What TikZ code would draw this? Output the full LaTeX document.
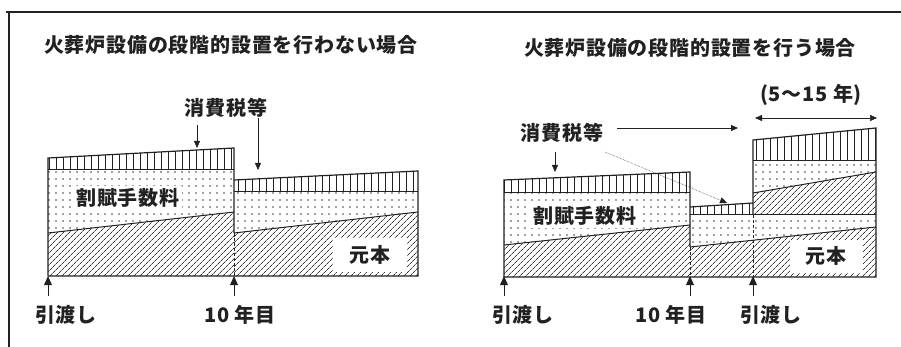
\documentclass[tikz,border=0pt]{standalone}
\usepackage{fontspec}
\setmainfont{Noto Sans CJK JP}
\usetikzlibrary{patterns.meta,arrows.meta}
\definecolor{ink}{rgb}{0.13,0.13,0.13}
\tikzset{
  lbl/.style={font=\fontsize{20}{20}\selectfont\bfseries\addfontfeature{LetterSpace=4}, text=ink, inner sep=1pt},
  boxlbl/.style={lbl, fill=white, inner sep=2pt},
  bandfill/.style={pattern={Lines[angle=90,distance=7pt,line width=0.8pt]}, pattern color=ink},
  dotfill/.style={pattern={Dots[distance=7pt,radius=0.8pt]}, pattern color=ink!85},
  hatchfill/.style={pattern={Lines[angle=45,distance=4pt,line width=0.7pt]}, pattern color=ink!90},
  outl/.style={draw=ink, line width=1.2pt, line join=miter},
  inl/.style={draw=ink, line width=1pt},
  vdash/.style={draw=ink, line width=0.9pt, densely dashed},
  thinarrow/.style={draw=ink, line width=0.5pt, -{Triangle[length=7pt,width=6pt]}},
  marker/.style={fill=ink},
}
\begin{document}
\begin{tikzpicture}[x=1pt,y=-1pt]
\useasboundingbox (0,0) rectangle (901,347);
% frame
\draw[ink, line width=1.5pt] (6,12) -- (901,12);
\draw[ink, line width=1.3pt] (9,12) -- (9,347);

% ---------- left panel ----------
\node[lbl] (tl) at (231,45) {火葬炉設備の段階的設置を行わない場合};
% block L1
\fill[bandfill] (48,158) -- (234,148) -- (234,170) -- (48,170) -- cycle;
\fill[dotfill] (48,170) -- (234,170) -- (234,212) -- (48,233) -- cycle;
\fill[hatchfill] (48,233) -- (234,212) -- (234,276) -- (48,276) -- cycle;
% block L2
\fill[bandfill] (234,180) -- (418,171) -- (418,192) -- (234,192) -- cycle;
\fill[dotfill] (234,192) -- (418,192) -- (418,212) -- (234,233) -- cycle;
\fill[hatchfill] (234,233) -- (418,212) -- (418,276) -- (234,276) -- cycle;
% lines
\draw[inl] (48,170) -- (234,170);
\draw[inl] (48,233) -- (234,212);
\draw[inl] (234,192) -- (418,192);
\draw[inl] (234,233) -- (418,212);
\draw[outl] (48,276) -- (48,158) -- (234,148) -- (234,233);
\draw[outl] (234,180) -- (418,171) -- (418,276) -- (48,276);
\draw[vdash] (234,233) -- (234,276);

\node[boxlbl] (kl) at (128,198) {割賦手数料};
\node[boxlbl, minimum width=74pt, minimum height=34pt] (gl) at (370,255) {元本};
\node[lbl] (sl) at (226,108) {消費税等};
\coordinate (sla) at (197,125);
\coordinate (slb) at (197,148);
\coordinate (slc) at (258,118);
\coordinate (sld) at (258,170);
\draw[thinarrow] (sla) -- (slb);
\draw[thinarrow] (slc) -- (sld);

% ---------- right panel ----------
\node[lbl] (tr) at (690,48) {火葬炉設備の段階的設置を行う場合};
% block R1
\fill[bandfill] (504,180) -- (690,172) -- (690,193) -- (504,193) -- cycle;
\fill[dotfill] (504,193) -- (690,193) -- (690,225) -- (504,245) -- cycle;
\fill[hatchfill] (504,245) -- (690,225) -- (690,277) -- (504,277) -- cycle;
% block R2 band
\fill[bandfill] (690,207) -- (753,203) -- (753,215) -- (690,215) -- cycle;
% lower R2/R3
\fill[dotfill] (690,215) -- (876,215) -- (876,227) -- (690,247) -- cycle;
\fill[hatchfill] (690,247) -- (876,227) -- (876,277) -- (690,277) -- cycle;
% block R3 upper
\fill[bandfill] (753,140) -- (876,128) -- (876,161) -- (753,161) -- cycle;
\fill[dotfill] (753,161) -- (876,161) -- (876,172) -- (753,193) -- cycle;
\fill[hatchfill] (753,193) -- (876,172) -- (876,215) -- (753,215) -- cycle;
% lines
\draw[inl] (504,193) -- (690,193);
\draw[inl] (504,245) -- (690,225);
\draw[inl] (690,215) -- (876,215);
\draw[inl] (690,247) -- (876,227);
\draw[inl] (753,161) -- (876,161);
\draw[inl] (753,193) -- (876,172);
\draw[outl] (504,277) -- (504,180) -- (690,172) -- (690,247);
\draw[outl] (690,207) -- (753,203);
\draw[outl] (753,215) -- (753,140) -- (876,128) -- (876,277) -- (504,277);
\draw[vdash] (690,247) -- (690,277);
\draw[vdash] (753,215) -- (753,277);

\node[boxlbl] (kr) at (585,216) {割賦手数料};
\node[boxlbl, minimum width=73pt, minimum height=33pt] (gr) at (826,256) {元本};
\node[lbl] (sr) at (562,133) {消費税等};
\node[lbl] (yr) at (811,95) {(5～15 年)};
\coordinate (sra) at (617,128);
\coordinate (srb) at (738,128);
\coordinate (src) at (555,152);
\coordinate (srd) at (555,172);
\coordinate (sre) at (605,152);
\coordinate (srf) at (727,203);
\coordinate (yra) at (755,118);
\coordinate (yrb) at (877,118);
\draw[thinarrow, line width=0.8pt] (sra) -- (srb);
\draw[thinarrow] (src) -- (srd);
\draw[thinarrow, densely dotted] (sre) -- (srf);
\draw[draw=ink, line width=0.5pt, {Triangle[length=7pt,width=6pt]}-{Triangle[length=7pt,width=6pt]}] (yra) -- (yrb);

% ---------- markers ----------
\foreach \mx/\nm in {48/m1,234/m2,504/m3,690/m4,753/m5}{
  \coordinate (\nm) at (\mx,276);
  \fill[marker] (\nm) -- ++(-4,9) -- ++(8,0) -- cycle;
  \draw[ink, line width=0.5pt] ([yshift=-9pt]\nm) -- ([yshift=-20pt]\nm);
}
\node[lbl] (h1) at (66,315) {引渡し};
\node[lbl] (y1) at (240,315) {10 年目};
\node[lbl] (h2) at (523,315) {引渡し};
\node[lbl] (y2) at (671,315) {10 年目};
\node[lbl] (h3) at (771,315) {引渡し};
\end{tikzpicture}
\end{document}
